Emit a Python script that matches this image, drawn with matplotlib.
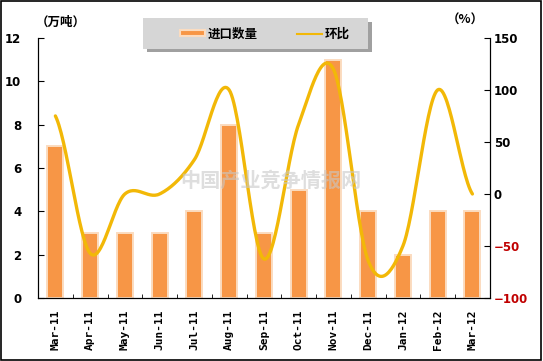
import matplotlib
matplotlib.use("Agg")
import matplotlib.pyplot as plt
import numpy as np
from matplotlib.patches import Rectangle, Patch
from matplotlib.lines import Line2D

plt.rcParams['font.family'] = ['DejaVu Sans', 'Noto Sans CJK SC']

months = ["Mar-11", "Apr-11", "May-11", "Jun-11", "Jul-11", "Aug-11", "Sep-11",
          "Oct-11", "Nov-11", "Dec-11", "Jan-12", "Feb-12", "Mar-12"]
volume = [7, 3, 3, 3, 4, 8, 3, 5, 11, 4, 2, 4, 4]          # 万吨
mom = [75, -57, 0, 0, 33, 100, -62.5, 67, 120, -64, -50, 100, 0]  # %

BAR = "#F79646"
BAR_EDGE = "#FBDCC0"
LINE = "#F2B807"
CJK = ['Noto Sans CJK SC', 'DejaVu Sans']


def smooth(xs, ys, n=30):
    # Catmull-Rom style smoothing, as used by the spreadsheet's smoothed line
    xs = np.asarray(xs, float)
    ys = np.asarray(ys, float)
    px = np.concatenate([[2 * xs[0] - xs[1]], xs, [2 * xs[-1] - xs[-2]]])
    py = np.concatenate([[ys[0]], ys, [ys[-1]]])
    out_x, out_y = [], []
    t = np.linspace(0, 1, n, endpoint=False)
    for i in range(1, len(px) - 2):
        p0, p1, p2, p3 = py[i - 1], py[i], py[i + 1], py[i + 2]
        x0, x1, x2, x3 = px[i - 1], px[i], px[i + 1], px[i + 2]
        for a, b, c, d, store in ((x0, x1, x2, x3, out_x), (p0, p1, p2, p3, out_y)):
            store.extend(0.5 * ((2 * b) + (-a + c) * t + (2 * a - 5 * b + 4 * c - d) * t ** 2
                                + (-a + 3 * b - 3 * c + d) * t ** 3))
    out_x.append(xs[-1])
    out_y.append(ys[-1])
    return np.array(out_x), np.array(out_y)


fig = plt.figure(figsize=(5.43, 3.61), dpi=100)
ax = fig.add_axes([0.070, 0.1745, 0.832, 0.7205])
ax2 = ax.twinx()

x = np.arange(len(months))
ax.bar(x, volume, width=0.46, color=BAR, edgecolor=BAR_EDGE, linewidth=1.4, zorder=2)
ax.set_xlim(-0.5, len(months) - 0.5)
ax.set_ylim(0, 12)
ax.set_yticks(range(0, 13, 2))
ax.set_xticks(x)
ax.set_xticklabels(months, rotation=90, fontsize=8, fontweight="bold", family="DejaVu Sans Mono")
ax.set_xticks(np.arange(-0.5, len(months)), minor=True)
ax.tick_params(axis="x", which="major", length=0, pad=8)
ax.tick_params(axis="x", which="minor", length=3, direction="in")
ax.tick_params(axis="y", direction="in", length=4, labelsize=8.5, pad=12)
for lab in ax.get_yticklabels():
    lab.set_fontweight("bold")

sx, sy = smooth(x, mom)
ax2.plot(sx, sy, color=LINE, linewidth=2.4, zorder=3, solid_capstyle="round")
ax2.set_ylim(-100, 150)
ax2.set_yticks(range(-100, 151, 50))
ax2.tick_params(axis="y", direction="in", length=4, labelsize=8.5, pad=3)
for lab, v in zip(ax2.get_yticklabels(), range(-100, 151, 50)):
    lab.set_fontweight("bold")
    if v < 0:
        lab.set_color("#C00000")

for a in (ax, ax2):
    a.spines["top"].set_visible(False)
    a.set_facecolor("none")

# unit labels
fig.text(0.066, 0.937, "（万吨）", fontsize=9, fontweight="bold", family=CJK, ha="left", va="center")
fig.text(0.823, 0.943, "（%）", fontsize=9, fontweight="bold", family=CJK, ha="left", va="center")

# watermark
fig.text(0.498, 0.50, "中国产业竞争情报网", fontsize=14.5, fontweight="bold", family=CJK,
         color="#C8C8C8", alpha=0.6, ha="center", va="center", zorder=5)

# legend box with shadow
fig.patches.append(Rectangle((0.270, 0.855), 0.415, 0.085, transform=fig.transFigure,
                             facecolor="#A0A0A0", edgecolor="none", zorder=0))
fig.patches.append(Rectangle((0.263, 0.865), 0.415, 0.085, transform=fig.transFigure,
                             facecolor="#D6D6D6", edgecolor="none", zorder=1))
handles = [Patch(facecolor=BAR, edgecolor=BAR_EDGE, linewidth=1.5),
           Line2D([0], [0], color=LINE, linewidth=1.5)]
leg = fig.legend(handles, ["进口数量", "环比"], loc="center", bbox_to_anchor=(0.488, 0.906),
                 ncol=2, frameon=False, handlelength=2.0, handleheight=0.35,
                 columnspacing=3.2, handletextpad=0.2,
                 prop={"family": CJK, "weight": "bold", "size": 9})

# outer border
fig.patches.append(Rectangle((0.002, 0.003), 0.994, 0.993, transform=fig.transFigure,
                             facecolor="none", edgecolor="black", linewidth=1.2))

fig.savefig("out.png", dpi=100)
